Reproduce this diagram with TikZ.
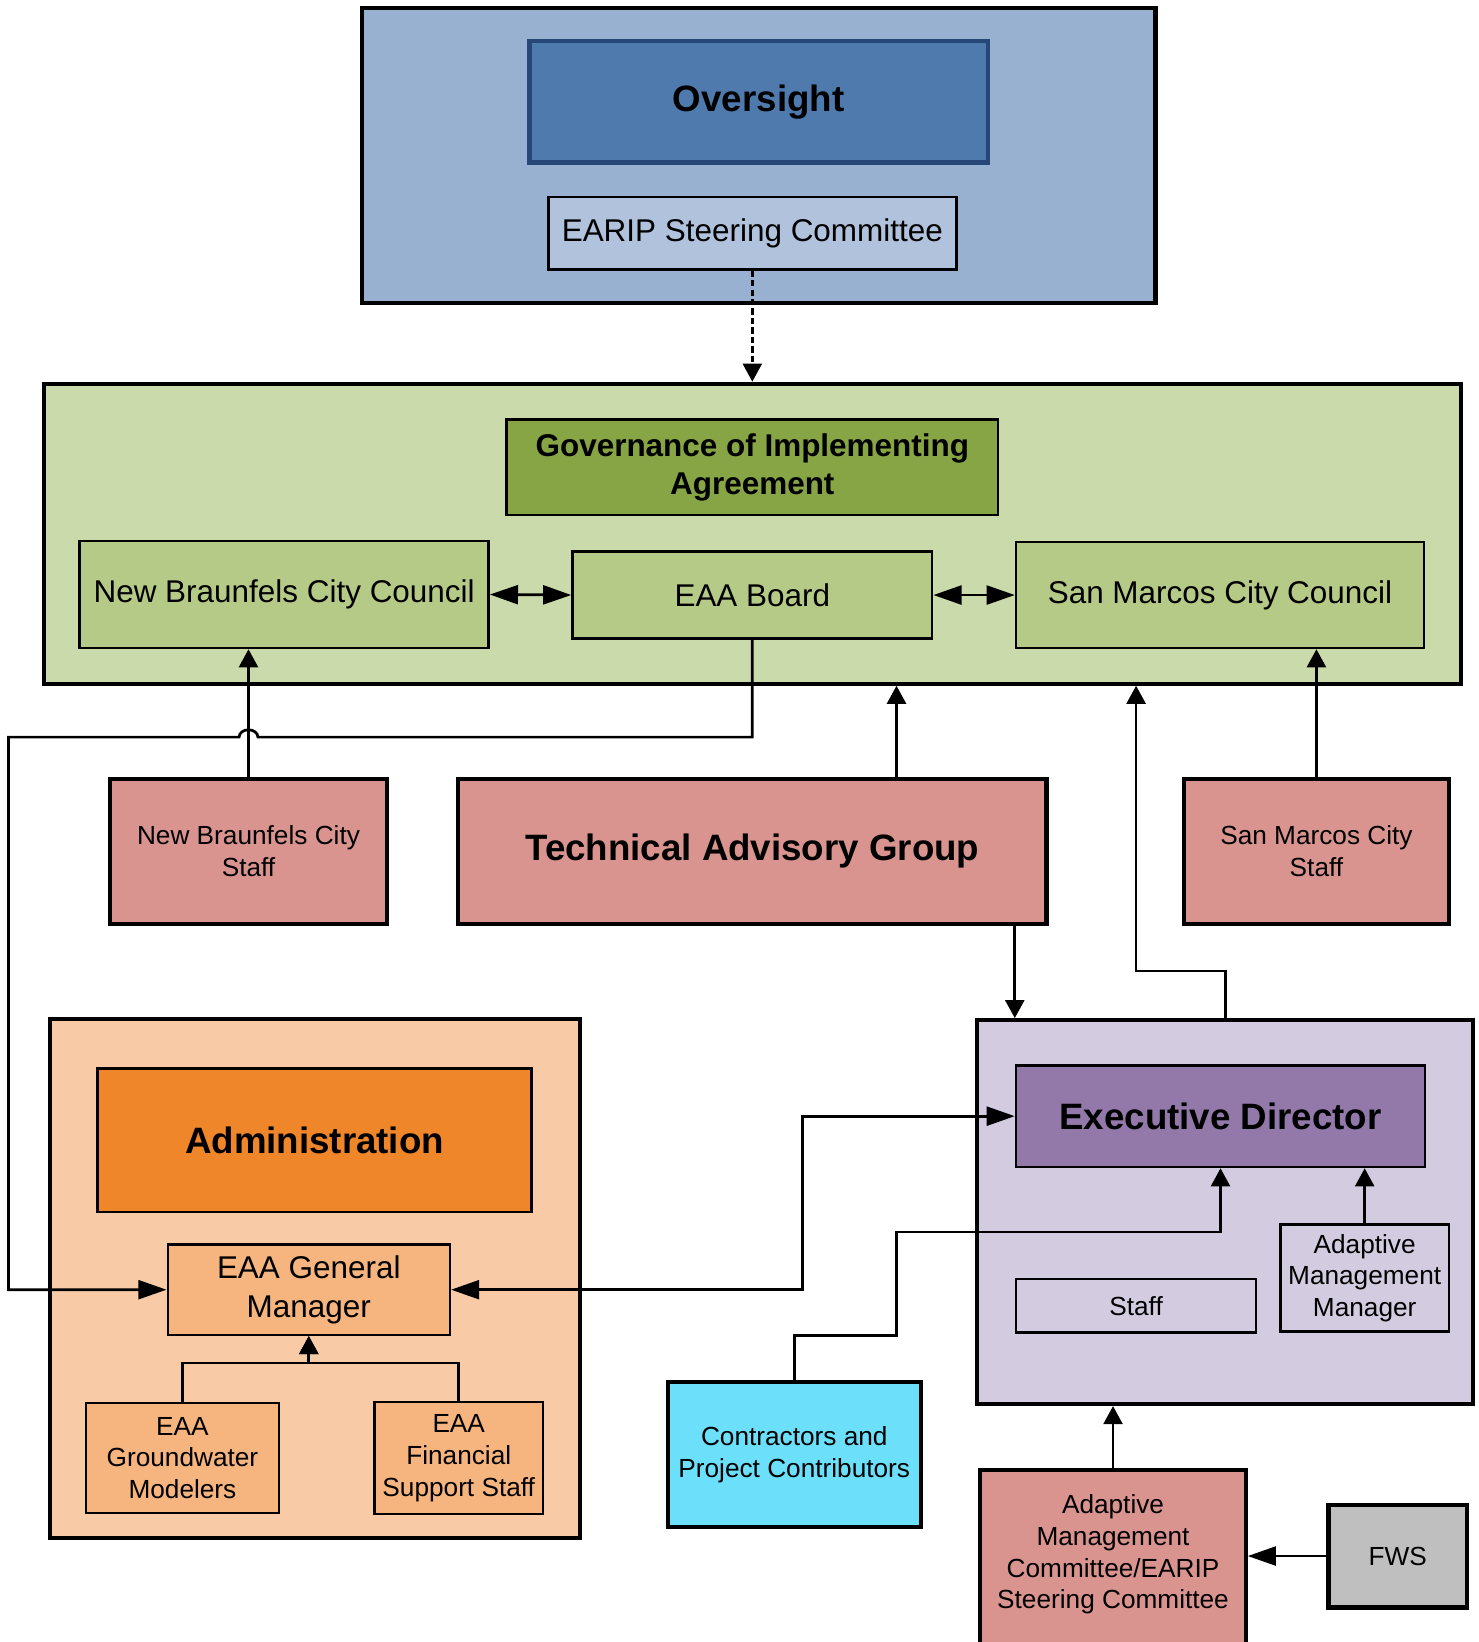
\documentclass[tikz,border=0pt]{standalone}
\usepackage{fontspec}
\setmainfont{Liberation Sans}
\usetikzlibrary{positioning,arrows.meta}
\definecolor{oversightbg}{RGB}{152,177,208}
\definecolor{oversightblue}{RGB}{79,122,174}
\definecolor{oversightedge}{RGB}{38,71,120}
\definecolor{earipblue}{RGB}{176,194,220}
\definecolor{govbg}{RGB}{203,218,170}
\definecolor{govdark}{RGB}{135,165,69}
\definecolor{govlight}{RGB}{182,202,135}
\definecolor{staffrose}{RGB}{217,148,144}
\definecolor{adminbg}{RGB}{248,203,166}
\definecolor{adminorange}{RGB}{240,134,42}
\definecolor{adminlight}{RGB}{246,180,126}
\definecolor{execbg}{RGB}{211,203,224}
\definecolor{execpurple}{RGB}{146,121,170}
\definecolor{contrcyan}{RGB}{108,224,250}
\definecolor{fwsgray}{RGB}{191,191,191}

\tikzset{
  boxsize/.style 2 args={minimum width=#1*0.5pt, minimum height=#2*0.5pt},
  thickbox/.style={draw=black, line width=2pt, inner sep=2pt, align=center},
  thinbox/.style={draw=black, line width=1.2pt, inner sep=2pt, align=center},
  bigfont/.style={font=\fontsize{17.5}{21}\selectfont\bfseries},
  midbold/.style={font=\fontsize{15}{18}\selectfont\bfseries},
  midfont/.style={font=\fontsize{15}{18.5}\selectfont},
  smallfont/.style={font=\fontsize{12.5}{15.2}\selectfont},
  vtip/.tip={Triangle[length=8.6pt,width=9pt]},
  htip/.tip={Triangle[length=13.4pt,width=9pt]},
  arr/.style={line width=1.3pt, -vtip},
  harr/.style={line width=1.3pt, -htip},
  harrboth/.style={line width=1.3pt, htip-htip},
}

\begin{document}
\begin{tikzpicture}[x=0.5pt,y=0.5pt]
    \useasboundingbox (0,0) rectangle (1410,-1566);

    % Oversight
    \node[thickbox, fill=oversightbg, boxsize={757}{281}] (overOuter) at (723.5,-148.5) {};
    \node[thickbox, fill=oversightblue, draw=oversightedge, boxsize={437}{116}, bigfont] (oversight) at (723.5,-97) {Oversight};
    \node[thinbox, fill=earipblue, boxsize={389}{69}, midfont] (earip) at (717.5,-222.5) {EARIP Steering Committee};

    % Governance
    \node[thickbox, fill=govbg, boxsize={1351}{286}] (govOuter) at (717.5,-509) {};
    \node[thinbox, fill=govdark, boxsize={469}{91}, midbold] (gov) at (717.5,-445.5) {Governance of Implementing\\Agreement};
    \node[thinbox, fill=govlight, boxsize={390}{102}, midfont] (nbcc) at (271,-567) {New Braunfels City Council};
    \node[thinbox, fill=govlight, boxsize={343}{83}, midfont] (board) at (717.5,-567.5) {EAA Board};
    \node[thinbox, fill=govlight, boxsize={389}{101}, midfont] (smcc) at (1163.5,-567.5) {San Marcos City Council};

    % Staff and advisory row
    \node[thickbox, fill=staffrose, boxsize={264}{138}, smallfont] (nbstaff) at (237,-812) {New Braunfels City\\Staff};
    \node[thickbox, fill=staffrose, boxsize={561}{138}, bigfont] (tag) at (717.5,-812) {Technical Advisory Group};
    \node[thickbox, fill=staffrose, boxsize={253}{138}, smallfont] (smstaff) at (1255.5,-812) {San Marcos City\\Staff};

    % Administration
    \node[thickbox, fill=adminbg, boxsize={505}{495}] (adminOuter) at (300.5,-1219.5) {};
    \node[thinbox, fill=adminorange, boxsize={414}{137}, bigfont] (admin) at (300,-1087.5) {Administration};
    \node[thinbox, fill=adminlight, boxsize={269}{86}, midfont] (gm) at (294.5,-1230) {EAA General\\Manager};
    \node[thinbox, fill=adminlight, boxsize={184}{105}, smallfont] (gwm) at (174,-1390.5) {EAA\\Groundwater\\Modelers};
    \node[thinbox, fill=adminlight, boxsize={161}{107}, smallfont] (fin) at (437.5,-1390.5) {EAA\\Financial\\Support Staff};

    % Executive Director
    \node[thickbox, fill=execbg, boxsize={473}{366}] (edOuter) at (1168.5,-1156) {};
    \node[thinbox, fill=execpurple, boxsize={390}{97}, bigfont] (ed) at (1164,-1064.5) {Executive Director};
    \node[thinbox, fill=execbg, boxsize={229}{51}, smallfont] (staff) at (1083.5,-1245.5) {Staff};
    \node[thinbox, fill=execbg, boxsize={161}{102}, smallfont] (amm) at (1301.5,-1219) {Adaptive\\Management\\Manager};

    % Bottom row
    \node[thickbox, fill=contrcyan, boxsize={241}{138}, smallfont] (contr) at (757.5,-1387) {Contractors and\\Project Contributors};
    \node[thickbox, fill=staffrose, boxsize={253}{184}, smallfont, anchor=north] (amc) at (1061.5,-1400) {Adaptive\\Management\\Committee/EARIP\\Steering Committee\\[-1pt]\mbox{}};
    \node[thickbox, fill=fwsgray, boxsize={132}{98}, smallfont] (fws) at (1333,-1484) {FWS};

    % Connectors
    \coordinate (hop) at (nbstaff.north |- 0,-703);
    \coordinate (leftbus) at (8,-703);
    \draw[arr, dash pattern=on 3pt off 1.5pt] (earip) -- (govOuter);
    \draw[harrboth] (nbcc.east) -- (board.west);
    \draw[harrboth] (board.east) -- (smcc.west);
    \draw[arr] (nbstaff.north) -- (nbstaff.north |- nbcc.south);
    \draw[harr] (board.south) |- ([xshift=4.5pt]hop) arc[start angle=0, end angle=180, x radius=9, y radius=7] -- (leftbus) |- (gm.west);
    \draw[arr] ([xshift=68.75pt]tag.north) -- ([xshift=68.75pt]tag.north |- govOuter.south);
    \draw[arr] (smstaff.north) -- (smstaff.north |- smcc.south);
    \draw[arr] (tag.south -| ed.west) -- (ed.west |- edOuter.north);
    \draw[arr] (edOuter.north) -- ++(0,45) -| (staff.north |- govOuter.south);
    \draw[harrboth] (gm.east) -- ++(335,0) |- (ed.west);
    \draw[arr] (gwm.north) -- ++(0,37) -| (gm.south);
    \draw[arr] (fin.north) -- ++(0,36) -| (gm.south);
    \draw[arr] (amm.north) -- (amm.north |- ed.south);
    \draw[arr] (contr.north) -- ++(0,42) -| ++(97.5,99) -| (ed.south);
    \draw[arr] (amc.north) -- (amc.north |- edOuter.south);
    \draw[harr] (fws.west) -- (fws.west -| amc.east);
\end{tikzpicture}
\end{document}
